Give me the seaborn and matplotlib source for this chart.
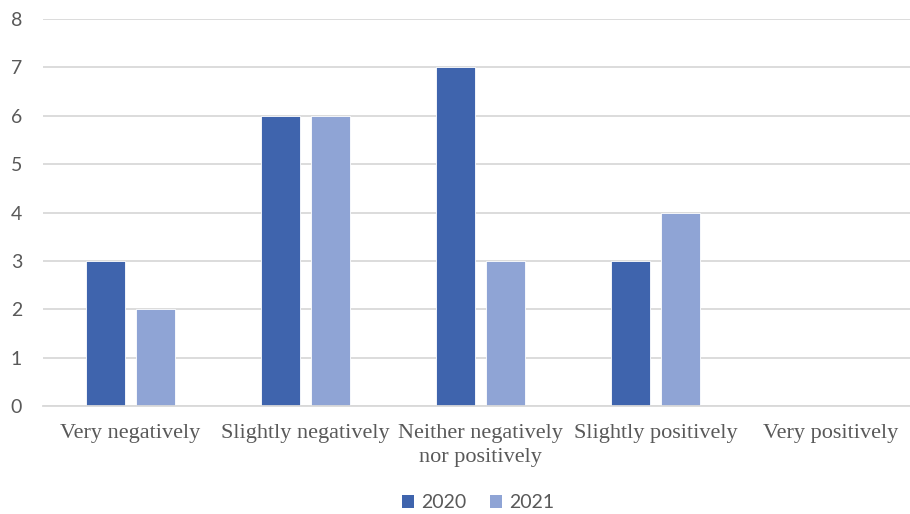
import matplotlib
matplotlib.use("Agg")
import matplotlib.pyplot as plt
import seaborn as sns
import pandas as pd
from matplotlib.patches import Patch

categories = ["Very negatively", "Slightly negatively", "Neither negatively\nnor positively",
              "Slightly positively", "Very positively"]
years = ["2020", "2021"]
values_2020 = [3, 6, 7, 3, 0]
values_2021 = [2, 6, 3, 4, 0]
yticks = [0, 1, 2, 3, 4, 5, 6, 7, 8]
colors = {"2020": "#3F64AD", "2021": "#8FA4D5"}

df = pd.DataFrame({
    "category": categories * 2,
    "year": ["2020"] * len(categories) + ["2021"] * len(categories),
    "value": values_2020 + values_2021,
})

sns.set_theme(style="white")
fig = plt.figure(figsize=(9.10, 5.14), dpi=100)
ax = fig.add_axes([43 / 910, 1 - 406 / 514, 875 / 910, 387 / 514])

sns.barplot(data=df, x="category", y="value", hue="year", order=categories,
            hue_order=years, palette=colors, saturation=1, width=0.571, gap=0.22,
            edgecolor="white", linewidth=0.6, ax=ax, legend=False)

ax.set_ylim(0, 8)
ax.set_xlim(-0.5, len(categories) - 0.5)
ax.set_yticks(yticks)
ax.yaxis.grid(True, color="#D9D9D9", linewidth=1.3)
ax.set_axisbelow(True)
for side in ["left", "right", "top"]:
    ax.spines[side].set_visible(False)
ax.spines["bottom"].set_color("#D9D9D9")
ax.spines["bottom"].set_linewidth(1.3)
ax.set_xlabel("")
ax.set_ylabel("")
ax.tick_params(axis="y", length=0, pad=15, labelsize=14, labelcolor="#595959")
ax.tick_params(axis="x", length=0, pad=13, labelcolor="#595959")
for lbl in ax.get_yticklabels():
    lbl.set_fontfamily("Lato")
for lbl in ax.get_xticklabels():
    lbl.set_fontfamily("Liberation Serif")
    lbl.set_fontsize(16)
    lbl.set_linespacing(1.35)

handles = [Patch(facecolor=colors[y], edgecolor="none", label=y) for y in years]
fig.legend(handles=handles, loc="center", bbox_to_anchor=(478 / 910, 1 - 503 / 514),
           ncol=2, frameon=False, handlelength=0.65, handleheight=0.65,
           handletextpad=0.35, columnspacing=1.2,
           prop={"family": "Lato", "size": 14}, labelcolor="#595959")

fig.savefig("out.png", dpi=100)
